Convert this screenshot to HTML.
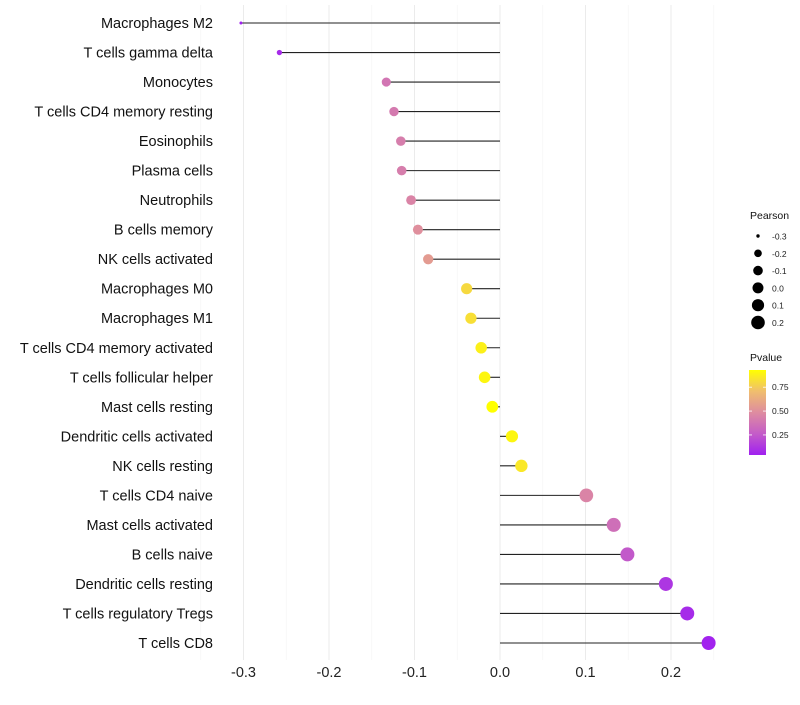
<!DOCTYPE html>
<html><head><meta charset="utf-8"><style>
body{margin:0;background:#fff;font-family:"Liberation Sans",sans-serif}
svg text{font-family:"Liberation Sans",sans-serif}
</style></head><body>
<svg id="chart" width="800" height="700"></svg>
<script>
const categories=["Macrophages M2","T cells gamma delta","Monocytes","T cells CD4 memory resting","Eosinophils","Plasma cells","Neutrophils","B cells memory","NK cells activated","Macrophages M0","Macrophages M1","T cells CD4 memory activated","T cells follicular helper","Mast cells resting","Dendritic cells activated","NK cells resting","T cells CD4 naive","Mast cells activated","B cells naive","Dendritic cells resting","T cells regulatory  Tregs","T cells CD8"];
const pearson=[-0.303,-0.258,-0.133,-0.124,-0.116,-0.115,-0.104,-0.096,-0.084,-0.039,-0.034,-0.022,-0.018,-0.009,0.014,0.025,0.101,0.133,0.149,0.194,0.219,0.244];
const pvalues=[0.04,0.08,0.38,0.40,0.42,0.42,0.45,0.50,0.55,0.80,0.82,0.88,0.90,0.93,0.90,0.85,0.45,0.35,0.25,0.12,0.08,0.05];
const xTicks=[-0.3,-0.2,-0.1,0.0,0.1,0.2];
const xTickLabels=["-0.3","-0.2","-0.1","0.0","0.1","0.2"];
const sizeLegend=[-0.3,-0.2,-0.1,0.0,0.1,0.2];
const pTicks=[0.25,0.50,0.75];

const NS="http://www.w3.org/2000/svg";
const svg=document.getElementById('chart');
function mk(t,a,p){const e=document.createElementNS(NS,t);for(const k in a)e.setAttribute(k,a[k]);(p||svg).appendChild(e);return e;}
const xS=v=>500+v*855;
const yS=i=>23+i*(620/21);
const rS=v=>Math.sqrt(2.25+Math.max(0,v+0.303)*200)*(v>-0.2?1:1);
function rSz(v){const r=Math.sqrt(2.2+Math.max(0,v+0.303)*110);return Math.min(r,7);}
const stops=[[0,[160,32,240]],[0.25,[196,92,200]],[0.5,[222,140,160]],[0.75,[240,190,110]],[1,[255,255,0]]];
function col(p){const t=Math.max(0,Math.min(1,(p-0.04)/0.89));for(let i=1;i<stops.length;i++){if(t<=stops[i][0]){const a=stops[i-1],b=stops[i],f=(t-a[0])/(b[0]-a[0]);return 'rgb('+a[1].map((c,j)=>Math.round(c+(b[1][j]-c)*f)).join(',')+')';}}return 'rgb(255,255,0)';}

for(let v=-0.35;v<=0.2501;v+=0.05){const major=Math.abs(Math.round(v*20))%2===0;
 const g=mk('line',{x1:xS(v),x2:xS(v),y1:5,y2:660,stroke:major?'#ebebeb':'#f4f4f4','stroke-width':major?1:0.6});
 }
categories.forEach((c,i)=>{
 const t=mk('text',{x:213,y:yS(i)+5,'text-anchor':'end','font-size':14.5,fill:'#111'});t.textContent=c;
 
 const l=mk('line',{x1:xS(0),x2:xS(pearson[i]),y1:yS(i),y2:yS(i),stroke:'#222','stroke-width':1.1});
 
 const d=mk('circle',{cx:xS(pearson[i]),cy:yS(i),r:rSz(pearson[i]),fill:col(pvalues[i])});
 
});
xTicks.forEach((v,i)=>{const t=mk('text',{x:xS(v),y:677,'text-anchor':'middle','font-size':14.5,fill:'#222'});t.textContent=xTickLabels[i];
 });
const lt=mk('text',{x:750,y:219,'font-size':10.5,fill:'#111'});lt.textContent='Pearson';

const legR=[1.7,3.8,4.8,5.5,6.1,6.8];
sizeLegend.forEach((v,i)=>{const y=236+i*17.3;
 const c=mk('circle',{cx:758,cy:y,r:legR[i],fill:'#000'});
 const t=mk('text',{x:772,y:y+3.5,'font-size':8.5,fill:'#222'});t.textContent=v.toFixed(1);
 });
const ct=mk('text',{x:750,y:361,'font-size':10.5,fill:'#111'});ct.textContent='Pvalue';

const defs=mk('defs',{});const lg=mk('linearGradient',{id:'pg',x1:0,y1:1,x2:0,y2:0},defs);
stops.forEach(s=>mk('stop',{offset:s[0],'stop-color':'rgb('+s[1].join(',')+')'},lg));
const bar=mk('rect',{x:749,y:370,width:17,height:85,fill:'url(#pg)'});

const pY=p=>455-(p-0.04)/0.89*85;
pTicks.forEach(p=>{const y=pY(p);
 mk('line',{x1:749,x2:752,y1:y,y2:y,stroke:'#fff','stroke-width':0.8});mk('line',{x1:763,x2:766,y1:y,y2:y,stroke:'#fff','stroke-width':0.8});
 const t=mk('text',{x:772,y:y+3,'font-size':8.5,fill:'#222'});t.textContent=p.toFixed(2);
 });
</script>
</body></html>
